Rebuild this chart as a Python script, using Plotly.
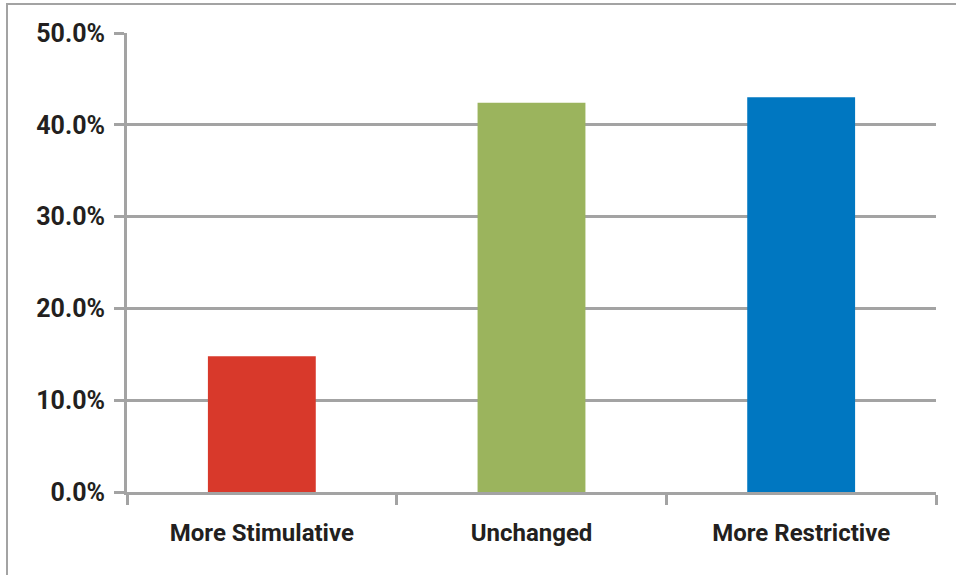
import plotly.graph_objects as go

categories = ["More Stimulative", "Unchanged", "More Restrictive"]
values = [14.8, 42.4, 43.0]
bar_colors = ["#D8392B", "#9BB45D", "#0077C1"]
y_tick_vals = [0, 10, 20, 30, 40, 50]
y_tick_text = ["0.0%", "10.0%", "20.0%", "30.0%", "40.0%", "50.0%"]

FONT = "Roboto, Liberation Sans, sans-serif"
GRID = "#A3A3A3"
TEXT = "#231F20"

fig = go.Figure(
    go.Bar(
        x=categories,
        y=values,
        marker=dict(color=bar_colors, line=dict(width=0)),
    )
)

W, H = 956, 575
L, R, T, B = 127, 20, 33, 83
pw, ph = W - L - R, H - T - B

fig.update_layout(
    width=W,
    height=H,
    margin=dict(l=L, r=R, t=T, b=B),
    paper_bgcolor="white",
    plot_bgcolor="white",
    showlegend=False,
    font=dict(family=FONT, size=25, color=TEXT),
    bargap=0.6,
    xaxis=dict(
        showline=True,
        linecolor=GRID,
        linewidth=3,
        ticks="outside",
        tickson="boundaries",
        ticklen=10,
        tickwidth=3,
        tickcolor=GRID,
        showgrid=False,
        tickfont=dict(family=FONT, size=24, color=TEXT, weight="bold"),
        ticklabelstandoff=17,
    ),
    yaxis=dict(
        range=[0, 50],
        tickvals=y_tick_vals,
        ticktext=y_tick_text,
        showline=True,
        linecolor=GRID,
        linewidth=3,
        ticks="outside",
        ticklen=10,
        tickwidth=3,
        tickcolor=GRID,
        showgrid=True,
        gridcolor=GRID,
        gridwidth=3,
        zeroline=False,
        tickfont=dict(family=FONT, size=25, color=TEXT, weight="bold"),
        ticklabelstandoff=4,
    ),
    shapes=[
        dict(
            type="rect",
            xref="paper",
            yref="paper",
            x0=(7 - L) / pw,
            x1=(W + 20 - L) / pw,
            y0=-(H + 20 - (T + ph)) / ph,
            y1=(T + ph - 4) / ph,
            line=dict(color=GRID, width=2),
            fillcolor="rgba(0,0,0,0)",
            layer="below",
        )
    ],
)

fig.write_html("out.html")
